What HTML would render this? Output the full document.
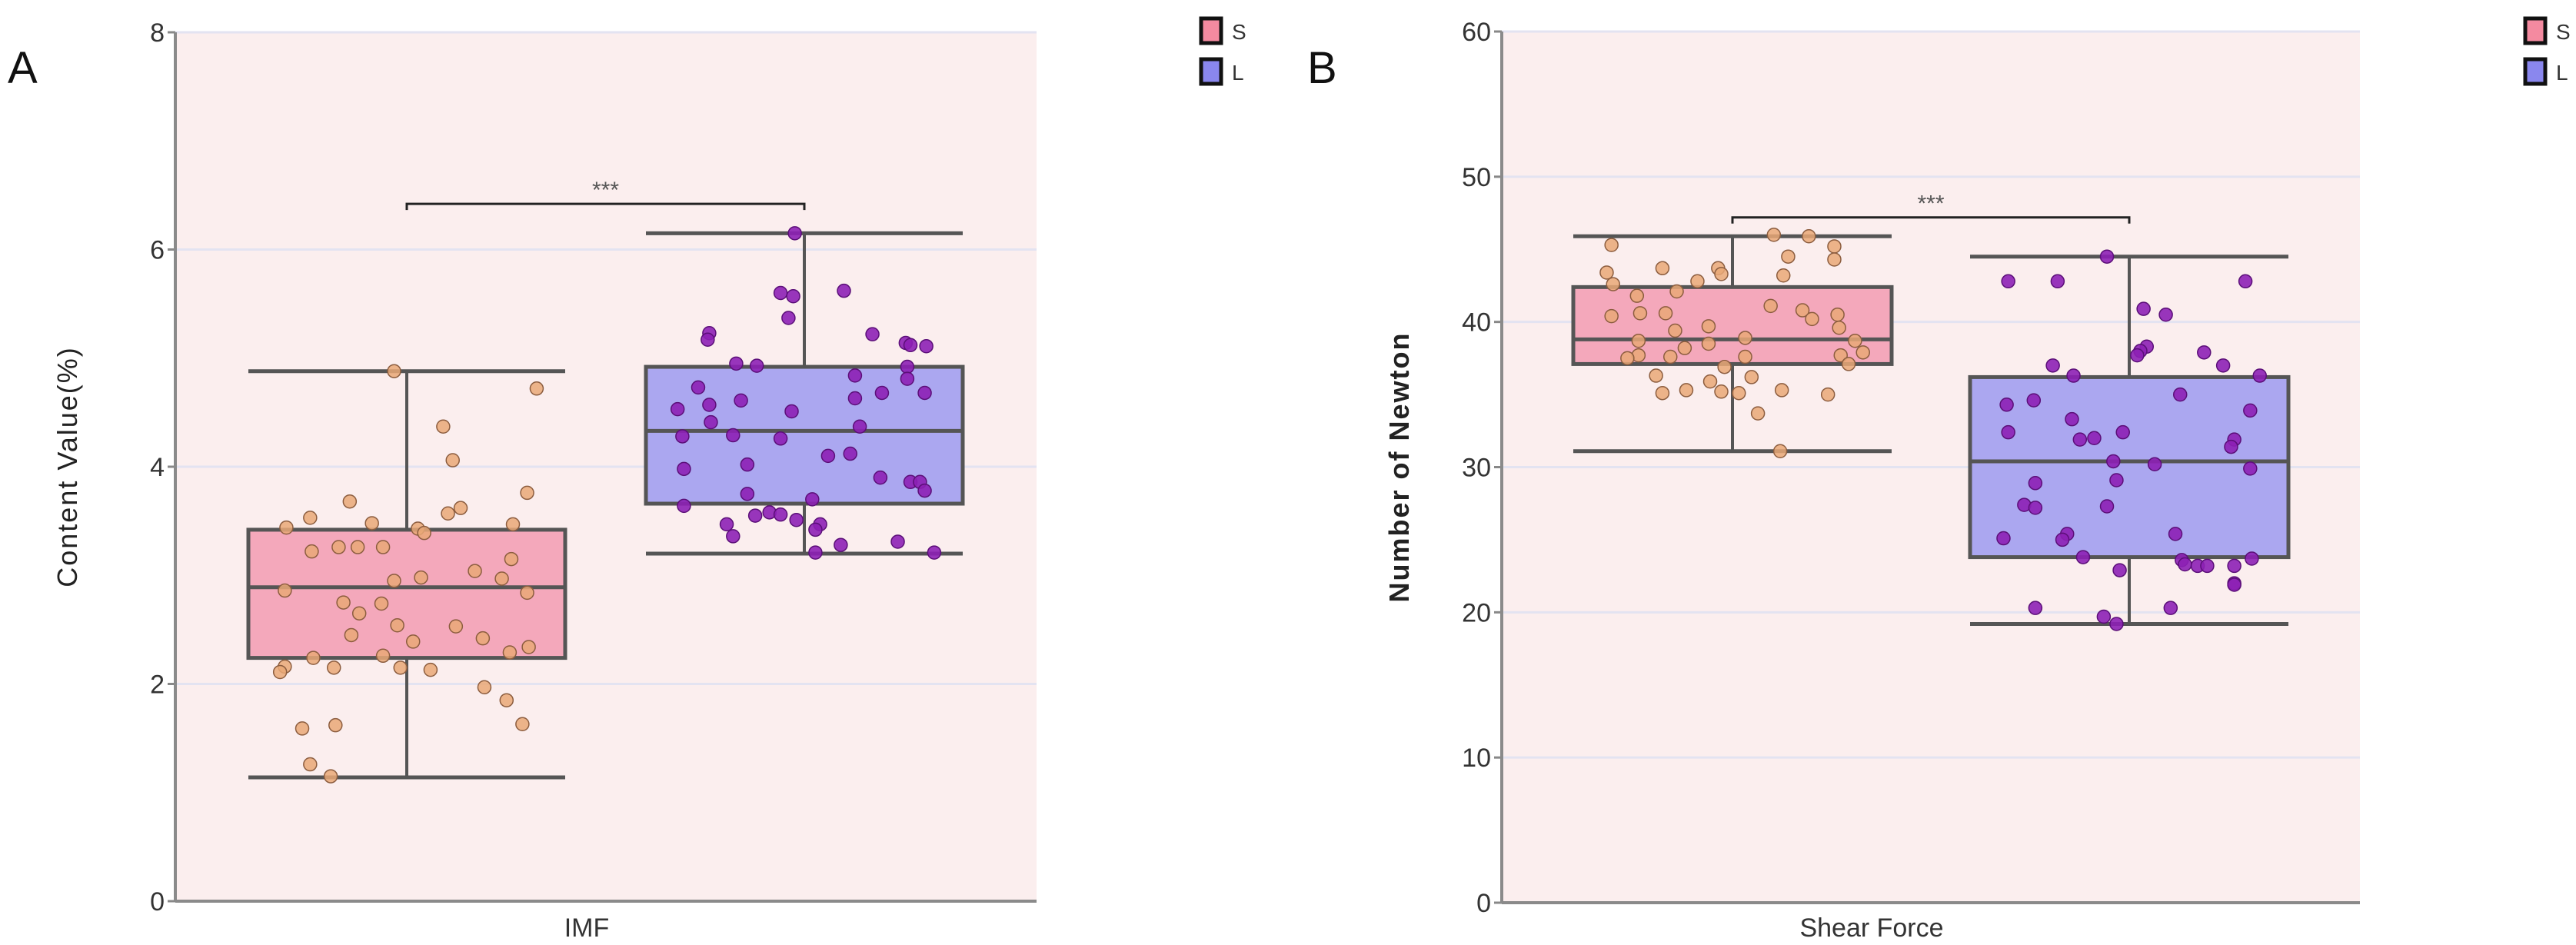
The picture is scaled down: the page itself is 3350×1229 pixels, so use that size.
<!DOCTYPE html>
<html><head><meta charset="utf-8"><style>
html,body{margin:0;padding:0;background:#fff}
svg{display:block}
text{font-family:"Liberation Sans Narrow","Liberation Sans",sans-serif}
</style></head><body>
<svg id="c" width="3350" height="1229" viewBox="0 0 3350 1229" xmlns="http://www.w3.org/2000/svg"></svg>
<script>
// ---------- Panel A data (IMF, %) ----------
const aTicks = [0, 2, 4, 6, 8];
const aStatsS = [1.14, 2.24, 2.89, 3.42, 4.88];
const aStatsL = [3.2, 3.66, 4.33, 4.92, 6.15];
const aValsS = [4.88,4.72,4.37,4.06,3.68,3.76,3.53,3.44,3.48,3.57,3.62,3.47,3.43,3.39,3.22,3.26,3.26,3.26,3.15,3.04,2.97,2.95,2.98,2.86,2.84,2.75,2.74,2.65,2.54,2.53,2.45,2.39,2.42,2.34,2.29,2.24,2.26,2.16,2.11,2.15,2.15,2.13,1.97,1.85,1.59,1.62,1.63,1.26,1.15];
const aJitS = [-0.08,0.82,0.23,0.29,-0.36,0.76,-0.61,-0.76,-0.22,0.26,0.34,0.67,0.07,0.11,-0.6,-0.43,-0.31,-0.15,0.66,0.43,0.6,-0.08,0.09,-0.77,0.76,-0.4,-0.16,-0.3,-0.06,0.31,-0.35,0.04,0.48,0.77,0.65,-0.59,-0.15,-0.77,-0.8,-0.46,-0.04,0.15,0.49,0.63,-0.66,-0.45,0.73,-0.61,-0.48];
const aValsL = [6.15,5.6,5.57,5.62,5.37,5.23,5.17,5.22,5.14,5.12,5.11,4.95,4.93,4.92,4.81,4.84,4.73,4.68,4.68,4.53,4.57,4.61,4.63,4.51,4.41,4.37,4.28,4.29,4.26,4.1,4.12,4.02,3.98,3.9,3.86,3.86,3.78,3.75,3.7,3.64,3.55,3.58,3.56,3.51,3.47,3.47,3.42,3.36,3.28,3.31,3.21,3.21];
const aJitL = [-0.06,-0.15,-0.07,0.25,-0.1,-0.6,-0.61,0.43,0.64,0.67,0.77,-0.43,-0.3,0.65,0.65,0.32,-0.67,0.49,0.76,-0.8,-0.6,-0.4,0.32,-0.08,-0.59,0.35,-0.77,-0.45,-0.15,0.15,0.29,-0.36,-0.76,0.48,0.67,0.73,0.76,-0.36,0.05,-0.76,-0.31,-0.22,-0.15,-0.05,-0.49,0.1,0.07,-0.45,0.23,0.59,0.07,0.82];
// ---------- Panel B data (Shear force, N) ----------
const bTicks = [0, 10, 20, 30, 40, 50, 60];
const bStatsS = [31.1, 37.1, 38.8, 42.4, 45.9];
const bStatsL = [19.2, 23.8, 30.4, 36.2, 44.5];
const bValsS = [45.3,46.0,45.9,45.2,44.3,44.5,43.4,43.7,43.7,43.3,43.2,42.6,42.8,42.1,41.8,41.1,40.6,40.6,40.4,40.8,40.2,40.5,39.6,39.7,39.4,38.9,38.7,38.5,38.7,38.2,37.9,37.7,37.6,37.7,37.5,37.6,36.9,37.1,36.3,36.2,35.9,35.1,35.3,35.2,35.1,35.3,35.0,33.7,31.1];
const bJitS = [-0.76,0.26,0.48,0.64,0.64,0.35,-0.79,-0.44,-0.09,-0.07,0.32,-0.75,-0.22,-0.35,-0.6,0.24,-0.58,-0.42,-0.76,0.44,0.5,0.66,0.67,-0.15,-0.36,0.08,-0.59,-0.15,0.77,-0.3,0.82,0.68,-0.39,-0.59,-0.66,0.08,-0.05,0.73,-0.48,0.12,-0.14,-0.44,-0.29,-0.07,0.04,0.31,0.6,0.16,0.3];
const bValsL = [44.5,42.8,42.8,42.8,40.9,40.5,38.3,38.0,37.7,37.9,37.0,37.0,36.3,36.3,34.3,34.6,35.0,33.9,33.3,32.4,32.4,31.9,32.0,31.9,31.4,30.4,30.2,29.9,29.1,28.9,27.4,27.2,27.3,25.4,25.1,25.4,25.0,23.8,23.6,23.3,23.2,23.2,23.2,23.7,22.9,22.0,21.9,20.3,20.3,19.7,19.2];
const bJitL = [-0.14,-0.76,-0.45,0.73,0.09,0.23,0.11,0.07,0.05,0.47,-0.48,0.59,-0.35,0.82,-0.77,-0.6,0.32,0.76,-0.36,-0.76,-0.04,-0.31,-0.22,0.66,0.64,-0.1,0.16,0.76,-0.08,-0.59,-0.66,-0.59,-0.14,0.29,-0.79,-0.39,-0.42,-0.29,0.33,0.35,0.43,0.49,0.66,0.77,-0.06,0.66,0.66,-0.59,0.26,-0.16,-0.08];

const NS = 'http://www.w3.org/2000/svg';
const svg = document.getElementById('c');
function mk(tag, attrs, parent, txt){
  const e = document.createElementNS(NS, tag);
  for (const k in attrs) e.setAttribute(k, attrs[k]);
  if (txt !== undefined) e.textContent = txt;
  (parent || svg).appendChild(e);
  return e;
}

function panel(cfg){
  const g = mk('g', {});
  
  
  const x0 = cfg.x0, x1 = cfg.x1, yTop = cfg.yTop, yBot = cfg.yBot;
  const ymax = cfg.ticks[cfg.ticks.length - 1];
  const ys = v => yBot - (v / ymax) * (yBot - yTop);
  const bg = mk('rect', {x:x0, y:yTop, width:x1 - x0, height:yBot - yTop, fill:'#fbeeee'}, g);
  
  
  cfg.ticks.forEach(t => {
    if (t > 0) {
      const gl = mk('line', {x1:x0, x2:x1, y1:ys(t), y2:ys(t), stroke:'#e3e3f1', 'stroke-width':3}, g);
      
      
    }
    mk('line', {x1:x0 - 10, x2:x0, y1:ys(t), y2:ys(t), stroke:'#888', 'stroke-width':3}, g);
    const tl = mk('text', {x:x0 - 14, y:ys(t) + 12, 'text-anchor':'end', 'font-size':34, fill:'#333'}, g, String(t));
    
    
  });
  const ya = mk('line', {x1:x0, x2:x0, y1:yTop, y2:yBot, stroke:'#8a8a8a', 'stroke-width':4}, g);
  
  
  const xa = mk('line', {x1:x0, x2:x1, y1:yBot, y2:yBot, stroke:'#8a8a8a', 'stroke-width':4}, g);
  
  

  const groups = [
    {c:cfg.cS, s:cfg.statsS, v:cfg.valsS, j:cfg.jitS, fill:'#f4a8bb', pf:'#e9a877', ps:'#8c5d3f', po:0.85, nm:'s'},
    {c:cfg.cL, s:cfg.statsL, v:cfg.valsL, j:cfg.jitL, fill:'#aba7f0', pf:'#8d20b5', ps:'#5b0f78', po:0.9, nm:'l'}
  ];
  groups.forEach(gr => {
    const hw = cfg.hw, st = gr.s;
    const w = mk('line', {x1:gr.c, x2:gr.c, y1:ys(st[0]), y2:ys(st[4]), stroke:'#555', 'stroke-width':4}, g);
    
    
    [st[0], st[4]].forEach(v => {
      const cap = mk('line', {x1:gr.c - hw, x2:gr.c + hw, y1:ys(v), y2:ys(v), stroke:'#555', 'stroke-width':5}, g);
      
      
    });
    const box = mk('rect', {x:gr.c - hw, y:ys(st[3]), width:2 * hw, height:ys(st[1]) - ys(st[3]), fill:gr.fill, stroke:'#555', 'stroke-width':5}, g);
    
    
    const med = mk('line', {x1:gr.c - hw, x2:gr.c + hw, y1:ys(st[2]), y2:ys(st[2]), stroke:'#555', 'stroke-width':5}, g);
    
    
    gr.v.forEach((v, i) => {
      const p = mk('circle', {cx:gr.c + gr.j[i] * hw, cy:ys(v), r:8.5, fill:gr.pf, stroke:gr.ps, 'stroke-width':1.5, 'fill-opacity':gr.po}, g);
      
      
    });
  });
  // significance bracket
  const by = ys(cfg.bracket);
  const br = mk('path', {d:`M${cfg.cS},${by + 8} V${by} H${cfg.cL} V${by + 8}`, fill:'none', stroke:'#222', 'stroke-width':3}, g);
  
  
  const sig = mk('text', {x:(cfg.cS + cfg.cL) / 2, y:by - 8, 'text-anchor':'middle', 'font-size':30, fill:'#555'}, g, '***');
  
  

  const xl = mk('text', {x:cfg.xlabX, y:1218, 'text-anchor':'middle', 'font-size':34, fill:'#333'}, g, cfg.xlabel);
  
  
  const yt = mk('text', {x:0, y:0, transform:`translate(${cfg.ytX},${(yTop + yBot) / 2}) rotate(-90)`, 'text-anchor':'middle', 'font-size':36, fill:'#222', 'letter-spacing':2, style:'font-family:"Liberation Sans",sans-serif' + (cfg.ytBold ? ';font-weight:bold' : '')}, g, cfg.ytitle);
  
  
  const pl = mk('text', {x:cfg.letterX, y:108, 'font-size':58, fill:'#111', style:'font-family:"Liberation Sans",sans-serif'}, g, cfg.letter);
  
  

  [['S', '#f48aa0', 24], ['L', '#8a87ee', 77]].forEach(le => {
    const r = mk('rect', {x:cfg.legX, y:le[2], width:26, height:32, fill:le[1], stroke:'#111', 'stroke-width':5}, g);
    
    
    const t = mk('text', {x:cfg.legX + 40, y:le[2] + 27, 'font-size':28, fill:'#333'}, g, le[0]);
    
    
  });
}

panel({name:'panel-a-imf', x0:228, x1:1348, yTop:42, yBot:1172, ticks:aTicks, cS:529, cL:1046, hw:206,
  statsS:aStatsS, statsL:aStatsL, valsS:aValsS, jitS:aJitS, valsL:aValsL, jitL:aJitL, bracket:6.42,
  xlabel:'IMF', xlabX:763, ytitle:'Content Value(%)', ytX:100, ytBold:false, letter:'A', letterX:10, legX:1562});
panel({name:'panel-b-shear-force', x0:1953, x1:3069, yTop:41, yBot:1174, ticks:bTicks, cS:2253, cL:2769, hw:207,
  statsS:bStatsS, statsL:bStatsL, valsS:bValsS, jitS:bJitS, valsL:bValsL, jitL:bJitL, bracket:47.2,
  xlabel:'Shear Force', xlabX:2434, ytitle:'Number of Newton', ytX:1832, ytBold:true, letter:'B', letterX:1700, legX:3284});
</script>
</body></html>
